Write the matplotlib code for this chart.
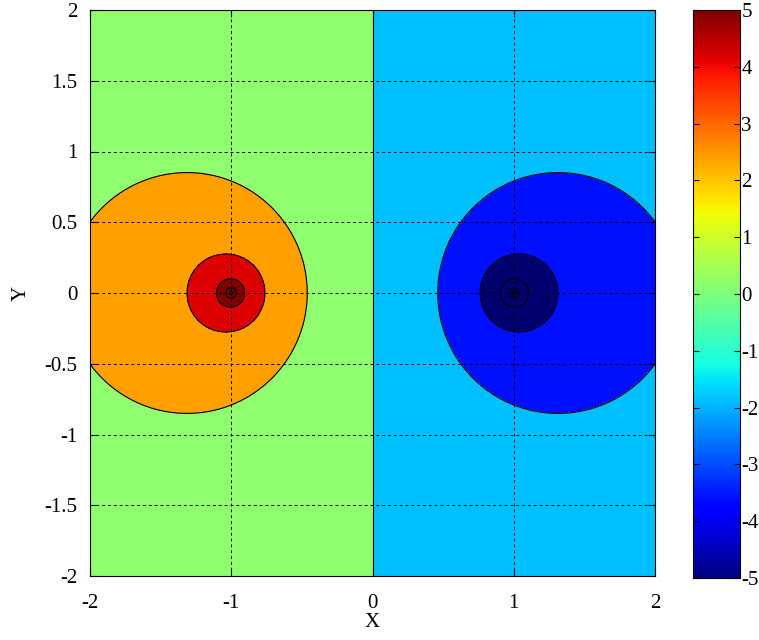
import numpy as np
import matplotlib
matplotlib.use("Agg")
import matplotlib.pyplot as plt
from matplotlib import cm, colors

plt.rcParams['font.family'] = ['Liberation Serif', 'DejaVu Serif']
plt.rcParams['font.size'] = 15

# two line charges: +1 at x=-1, -1 at x=+1 (potential = ln(r2/r1))
charge_x = [-1.0, 1.0]
charge_q = [1.0, -1.0]

# contour levels and the fill colour of each band
levels = [-50, -5, -4, -3, -2, -1, 0, 1, 2, 3, 4, 5, 50]
band_colors = ['#000070', '#000070', '#000070', '#000070', '#0010FF', '#00BFFF',
               '#8FFF70', '#FFA000', '#DD0000', '#800000', '#800000', '#800000']

xticks = [-2, -1, 0, 1, 2]
yticks = [-2, -1.5, -1, -0.5, 0, 0.5, 1, 1.5, 2]
ytick_labels = ['-2', '-1.5', '-1', '-0.5', '0', '0.5', '1', '1.5', '2']
cbar_ticks = [-5, -4, -3, -2, -1, 0, 1, 2, 3, 4, 5]

x = np.linspace(-2, 2, 801)
y = np.linspace(-2, 2, 801)
X, Y = np.meshgrid(x, y)
r1 = np.hypot(X - charge_x[0], Y)
r2 = np.hypot(X - charge_x[1], Y)
r1[r1 == 0] = 1e-9
r2[r2 == 0] = 1e-9
V = charge_q[0] * -np.log(r1) + charge_q[1] * -np.log(r2)
V = np.clip(V, -49, 49)

fig = plt.figure(figsize=(7.59, 6.4), dpi=100)
ax = fig.add_axes([90 / 759, 64 / 640, 565 / 759, 566 / 640])

ax.contourf(X, Y, V, levels=levels, colors=band_colors)
ax.contour(X, Y, V, levels=levels[1:-1], colors='k', linewidths=0.8,
           negative_linestyles='solid')

ax.set_xlim(-2, 2)
ax.set_ylim(-2, 2)
ax.set_xticks(xticks)
ax.set_xticklabels([str(t) for t in xticks])
ax.set_yticks(yticks)
ax.set_yticklabels(ytick_labels)
ax.tick_params(direction='in', top=True, right=True, length=5)
ax.tick_params(axis='x', pad=13)
ax.tick_params(axis='y', pad=9)
ax.grid(True, color='k', linestyle=(0, (3, 3)), linewidth=0.7)
ax.set_axisbelow(False)
ax.set_xlabel('X', labelpad=0)
ax.set_ylabel('Y', labelpad=10)

cax = fig.add_axes([693 / 759, 62 / 640, 47 / 759, 568 / 640])
sm = cm.ScalarMappable(norm=colors.Normalize(-5, 5), cmap='jet')
cb = fig.colorbar(sm, cax=cax, ticks=cbar_ticks)
cb.ax.set_yticklabels([str(t) for t in cbar_ticks])
cb.ax.tick_params(direction='in', left=True, right=True, length=4, pad=1)
cb.outline.set_linewidth(0.8)

fig.savefig('out.png', dpi=100)
